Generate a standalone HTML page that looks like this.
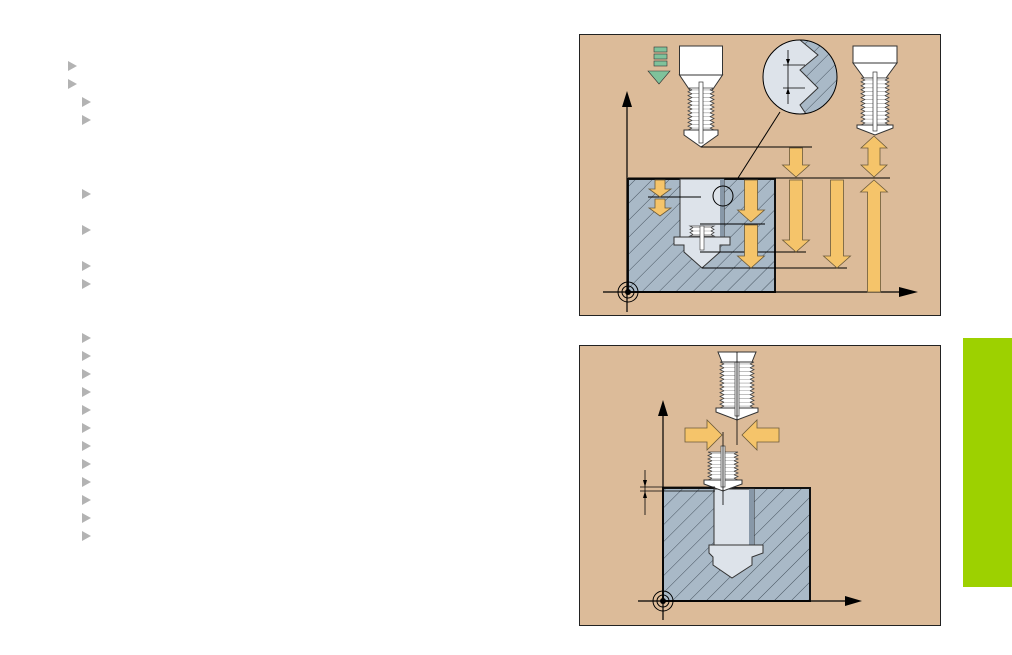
<!DOCTYPE html>
<html><head><meta charset="utf-8"><style>
html,body{margin:0;padding:0;background:#fff;width:1012px;height:655px;overflow:hidden}
svg{position:absolute;left:0;top:0}
</style></head><body>
<svg id="s" width="1012" height="655" viewBox="0 0 1012 655" xmlns="http://www.w3.org/2000/svg">
<defs>
<pattern id="h" width="12" height="12" patternUnits="userSpaceOnUse" patternTransform="rotate(45)">
<rect width="12" height="12" fill="#a9b9c7"/><line x1="0" y1="0" x2="0" y2="12" stroke="#2d3a46" stroke-width="0.8"/>
</pattern>
</defs>
<g fill="#b3b3b3" id="bul"></g>
<rect x="963" y="338" width="49" height="249" fill="#9dd100"/>

<!-- Panel 1 -->
<rect x="579.5" y="34.5" width="361" height="281" fill="#dcbb99" stroke="#222" stroke-width="1"/>
<rect x="628" y="179" width="147" height="113" fill="url(#h)" stroke="#111" stroke-width="2"/>
<rect x="680" y="179" width="44" height="58" fill="#dde3ea" stroke="#333" stroke-width="1"/>
<rect x="720" y="179" width="4" height="58" fill="#8898a8"/>
<polygon points="674,237 730,237 730,245 720,245 720,252 702,268 684,252 684,245 674,245" fill="#dde3ea" stroke="#333" stroke-width="1"/>
<g id="t1"></g>
<line x1="627" y1="100" x2="627" y2="312" stroke="#000" stroke-width="1.2"/>
<polygon points="627,91 622,107 632,107" fill="#000"/>
<line x1="603" y1="292" x2="905" y2="292" stroke="#000" stroke-width="1.2"/>
<polygon points="918,292 899,287 899,297" fill="#000"/>
<circle cx="628" cy="292" r="10" fill="none" stroke="#000"/>
<circle cx="628" cy="292" r="6" fill="none" stroke="#000"/>
<circle cx="628" cy="292" r="3" fill="#000"/>
<g stroke="#000" stroke-width="1">
<line x1="701" y1="147" x2="812" y2="147"/>
<line x1="628" y1="178" x2="890" y2="178"/>
<line x1="700" y1="224" x2="765" y2="224"/>
<line x1="700" y1="252" x2="806" y2="252"/>
<line x1="702" y1="268" x2="847" y2="268"/>
<line x1="648" y1="197" x2="701" y2="197"/>
<line x1="738" y1="178" x2="780" y2="112"/>
</g>
<circle cx="723" cy="196" r="10" fill="none" stroke="#000"/>
<clipPath id="zc"><circle cx="800" cy="77" r="37"/></clipPath>
<circle cx="800" cy="77" r="37" fill="#dde3ea"/>
<g clip-path="url(#zc)">
<polygon points="840,30 810,30 800,40 818,55 800,70 818,88 800,105 810,120 840,120" fill="url(#h)" stroke="#333"/>
</g>
<circle cx="800" cy="77" r="37" fill="none" stroke="#000"/>
<g stroke="#000" stroke-width="0.8"><line x1="788" y1="50" x2="788" y2="104"/><line x1="783" y1="65" x2="805" y2="65"/><line x1="783" y1="88" x2="805" y2="88"/></g>
<polygon points="788,65 786,59 790,59" fill="#000"/><polygon points="788,88 786,94 790,94" fill="#000"/>
<g fill="#7fc29b" stroke="#333" stroke-width="0.6"><rect x="654" y="47" width="13" height="5"/><rect x="654" y="54" width="13" height="5"/><rect x="654" y="61" width="13" height="5"/><polygon points="648,71 670,71 659,84"/></g>

<!-- Panel 2 -->
<rect x="579.5" y="345.5" width="361" height="280" fill="#dcbb99" stroke="#222" stroke-width="1"/>
<rect x="663" y="488" width="147" height="113" fill="url(#h)" stroke="#111" stroke-width="2"/>
<rect x="714" y="489" width="40" height="56" fill="#dde3ea" stroke="#333"/>
<rect x="749" y="489" width="5" height="56" fill="#8898a8"/>
<polygon points="709,545 763,545 763,553 752,557 752,565 732,578 713,565 713,557 709,553" fill="#dde3ea" stroke="#333"/>
<g id="t2"></g>
<line x1="663" y1="410" x2="663" y2="620" stroke="#000" stroke-width="1.2"/>
<polygon points="663,400 658,416 668,416" fill="#000"/>
<line x1="638" y1="601" x2="850" y2="601" stroke="#000" stroke-width="1.2"/>
<polygon points="862,601 845,596 845,606" fill="#000"/>
<circle cx="663" cy="601" r="10" fill="none" stroke="#000"/><circle cx="663" cy="601" r="6" fill="none" stroke="#000"/>
<circle cx="663" cy="601" r="3" fill="#000"/>
<g stroke="#000" stroke-width="0.8"><line x1="640" y1="487" x2="715" y2="487"/><line x1="640" y1="491" x2="715" y2="491"/><line x1="645" y1="470" x2="645" y2="515"/></g>
<polygon points="645,487 643,480 647,480" fill="#000"/><polygon points="645,491 643,498 647,498" fill="#000"/>
<line x1="723" y1="432" x2="723" y2="505" stroke="#000" stroke-width="0.8"/>
<line x1="737" y1="352" x2="737" y2="445" stroke="#000" stroke-width="0.8"/>
<g id="arr"></g>
</svg>
<script>
var NS="http://www.w3.org/2000/svg";
function el(p,t,a){var e=document.createElementNS(NS,t);for(var k in a)e.setAttribute(k,a[k]);p.appendChild(e);return e;}
var B=document.getElementById('bul');
[[68,66],[68,84],[82,102],[82,120],[82,194],[82,230],[82,266],[82,284],[82,338],[82,356],[82,374],[82,392],[82,410],[82,428],[82,446],[82,464],[82,482],[82,500],[82,518],[82,536]].forEach(function(p){el(B,'polygon',{points:(p[0])+','+(p[1]-5)+' '+(p[0]+9)+','+p[1]+' '+p[0]+','+(p[1]+5)});});
function threads(g,cx,y1,y2,ri,ro,n){var h=(y2-y1)/n,L=[],R=[];for(var i=0;i<=n;i++){var y=y1+i*h;L.push((cx-ro)+','+y);R.push((cx+ro)+','+y);if(i<n){L.push((cx-ri)+','+(y+h/2));R.push((cx+ri)+','+(y+h/2));}}
el(g,'polygon',{points:L.concat(R.reverse()).join(' '),fill:'#fff',stroke:'#444','stroke-width':0.8});
for(var i=0;i<n;i++){var y=y1+i*h+h/2;el(g,'line',{x1:cx-ri,y1:y,x2:cx+ri,y2:y,stroke:'#999','stroke-width':0.6});}}
function tool(g,cx,top,headW,headH,taperY,thTop,thBot,r,n,chamY,tip){
 if(headH>0){el(g,'rect',{x:cx-headW/2,y:top,width:headW,height:headH,fill:'#fff',stroke:'#333'});}
 if(taperY>top+headH)el(g,'polygon',{points:(cx-headW/2)+','+(top+headH)+' '+(cx+headW/2)+','+(top+headH)+' '+(cx+r-3)+','+taperY+' '+(cx-r+3)+','+taperY,fill:'#fff',stroke:'#333'});
 threads(g,cx,thTop,thBot,r-4,r,n);
 el(g,'polygon',{points:(cx-r-4)+','+thBot+' '+(cx+r+4)+','+thBot+' '+(cx+r+4)+','+chamY+' '+cx+','+tip+' '+(cx-r-4)+','+chamY,fill:'#fff',stroke:'#333'});
 el(g,'rect',{x:cx-2,y:thTop-6,width:4,height:tip-thTop+2,fill:'#fff',stroke:'#333','stroke-width':0.7});}
var t1=document.getElementById('t1');
tool(t1,701,46,43,29,92,88,130,13,11,135,147);
tool(t1,875,46,44,17,78,78,125,14,12,128,135);
threads(t1,702,226,236,9,12,3);
el(t1,'rect',{x:700,y:226,width:4,height:24,fill:'#fff',stroke:'#333','stroke-width':0.6});
var t2=document.getElementById('t2');
tool(t2,737,352,34,0,362,362,408,17,12,412,420);
el(t2,'polygon',{points:'718,352 756,352 752,362 722,362',fill:'#fff',stroke:'#333'});
tool(t2,723,452,0,0,452,452,480,15,8,484,491);
function down(g,cx,y1,y2,sw,hw,hh){el(g,'polygon',{points:[cx-sw/2,y1,cx+sw/2,y1,cx+sw/2,y2-hh,cx+hw/2,y2-hh,cx,y2,cx-hw/2,y2-hh,cx-sw/2,y2-hh].join(','),fill:'#f5c46a',stroke:'#6b5a3a','stroke-width':0.8});}
function up(g,cx,y1,y2,sw,hw,hh){el(g,'polygon',{points:[cx-sw/2,y2,cx+sw/2,y2,cx+sw/2,y1+hh,cx+hw/2,y1+hh,cx,y1,cx-hw/2,y1+hh,cx-sw/2,y1+hh].join(','),fill:'#f5c46a',stroke:'#6b5a3a','stroke-width':0.8});}
var A=document.getElementById('arr');
down(A,796,148,177,13,27,12);
down(A,751,180,222,13,27,12);down(A,751,225,268,13,27,12);
down(A,796,180,252,13,27,12);down(A,837,180,268,13,27,12);
up(A,874,180,292,13,27,12);
el(A,'polygon',{points:[874,136,887,148,880,148,880,165,887,165,874,177,861,165,868,165,868,148,861,148].join(','),fill:'#f5c46a',stroke:'#6b5a3a','stroke-width':0.8});
down(A,660,180,197,10,22,8);down(A,660,199,216,10,22,8);
el(A,'polygon',{points:[685,428,707,428,707,420,722,435,707,450,707,442,685,442].join(','),fill:'#f5c46a',stroke:'#6b5a3a','stroke-width':0.8});
el(A,'polygon',{points:[779,428,757,428,757,420,742,435,757,450,757,442,779,442].join(','),fill:'#f5c46a',stroke:'#6b5a3a','stroke-width':0.8});
</script>
</body></html>
